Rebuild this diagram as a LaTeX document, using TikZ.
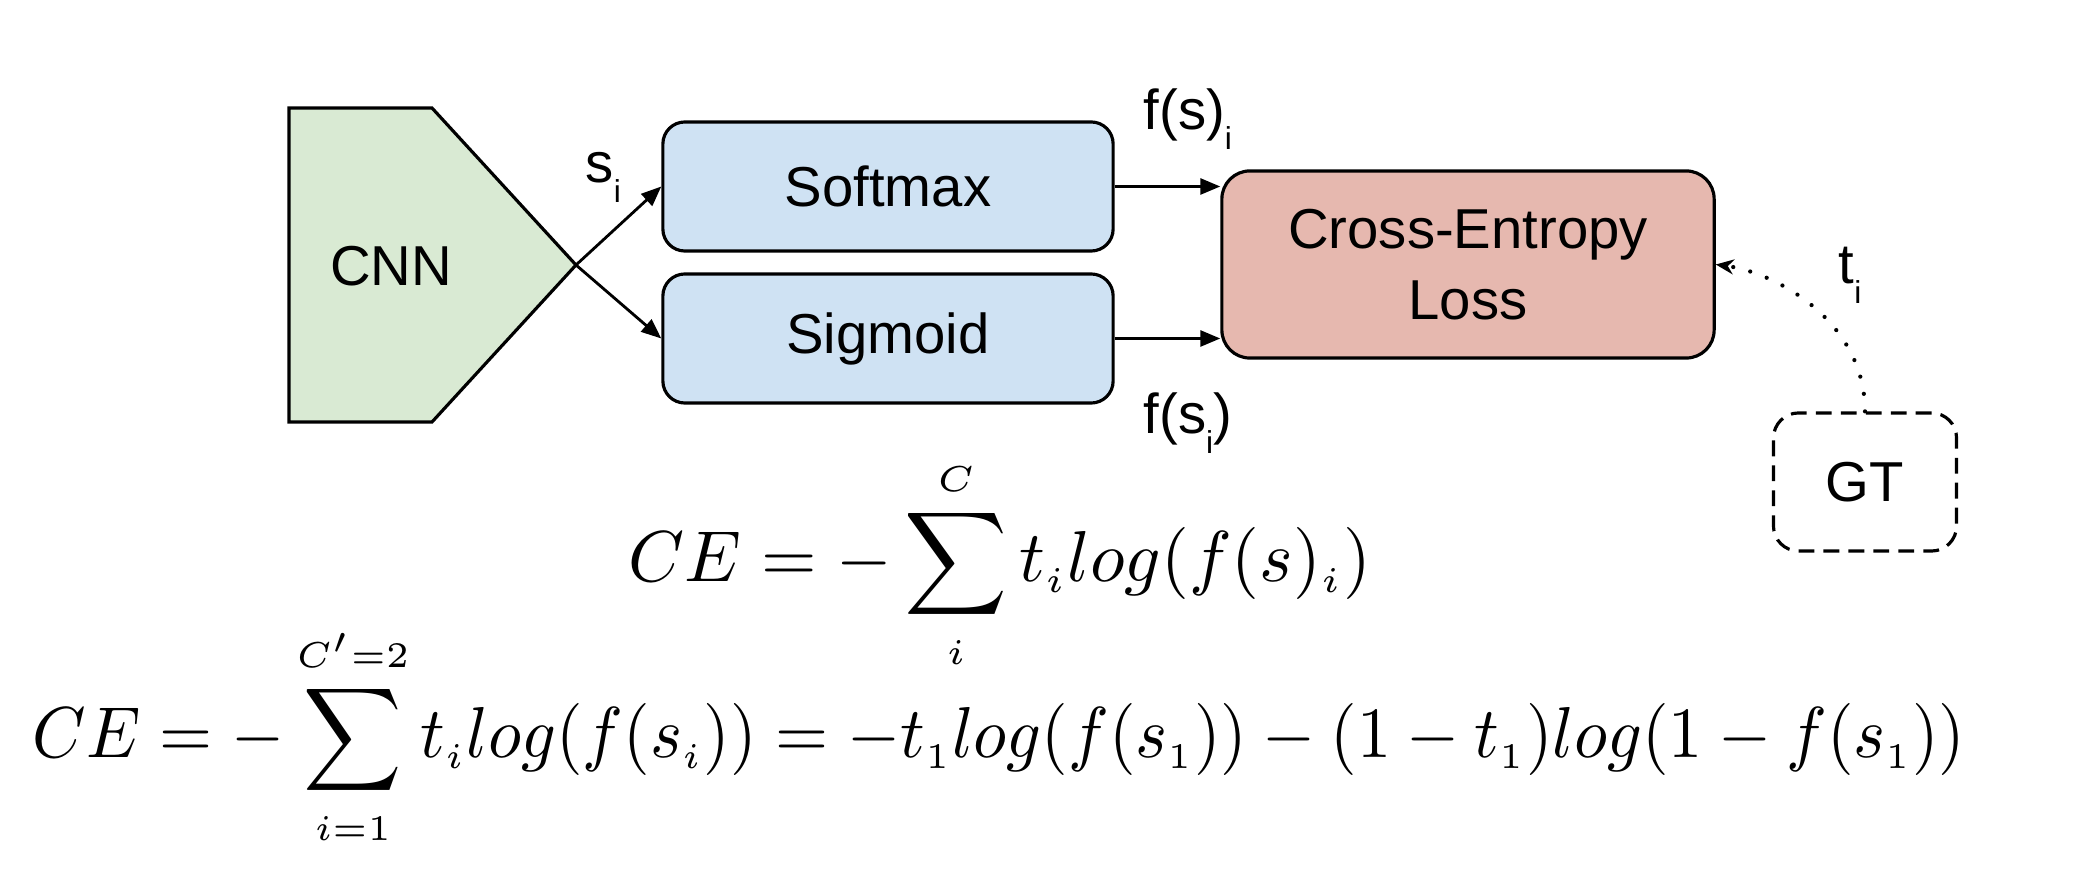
\documentclass[tikz,border=0pt]{standalone}
\usepackage[no-math]{fontspec}
\setmainfont{Liberation Sans}
\usepackage{graphicx}
\usetikzlibrary{arrows.meta}
\DeclareMathSizes{10}{10}{5}{5}
\definecolor{cnngreen}{HTML}{D9EAD3}
\definecolor{actblue}{HTML}{CFE2F3}
\definecolor{lossred}{HTML}{E6B8AF}
\newcommand{\lowsub}[1]{\raisebox{-0.19cm}{\fontsize{9}{9}\selectfont #1}}
\begin{document}
\begin{tikzpicture}[x=0.01cm,y=-0.01cm,
  lbl/.style={font=\fontsize{16}{20}\selectfont, inner sep=0},
  boxbase/.style={draw, line width=0.9pt, font=\fontsize{16}{20}\selectfont, align=center, inner sep=0},
  actbox/.style={boxbase, fill=actblue, rounded corners=0.22cm, minimum width=4.5cm, minimum height=1.29cm},
  lossbox/.style={boxbase, fill=lossred, rounded corners=0.28cm, minimum width=4.92cm, minimum height=1.87cm},
  gtbox/.style={boxbase, dash pattern=on 4.5pt off 2.6pt, rounded corners=0.25cm, minimum width=1.83cm, minimum height=1.38cm},
  conn/.style={line width=0.8pt, -{Triangle[length=0.2cm,width=0.16cm]}},
  dotconn/.style={line width=1.2pt, dash pattern=on 0pt off 5pt, line cap=round, -{Stealth[length=0.18cm,width=0.15cm,line cap=butt]}},
  eqn/.style={inner sep=0, anchor=base}
]
\useasboundingbox (0,0) rectangle (2088,892);
\fill[white] (0,0) rectangle (2088,892);

% CNN pentagon
\draw[fill=cnngreen, line width=0.9pt, line join=miter] (289,108) -- (432,108) -- (576,265) -- (432,422) -- (289,422) -- cycle;
\node[lbl] (cnn) at (391,266) {CNN};
\coordinate (cnntip) at (576,265);

% boxes
\node[actbox] (soft) at (888,186.5) {Softmax};
\node[actbox] (sig) at (888,338.5) {Sigmoid};
\node[lossbox] (ce) at (1468,264.5) {Cross-Entropy\\Loss};
\node[gtbox] (gt) at (1865,482) {GT};

% connectors
\draw[conn] (cnntip) -- (soft.west);
\draw[conn] (cnntip) -- (sig.west);
\draw[conn] (soft.east) -- (soft.east -| ce.west);
\draw[conn] (sig.east) -- (sig.east -| ce.west);
\draw[dotconn] (gt.north) .. controls +(0,-90) and +(60,8) .. (ce.east);

% labels
\node[lbl, anchor=base west] (lsi) at (585,183) {s\lowsub{i}};
\node[lbl, anchor=base west] (lfsi) at (1143,130) {f(s)\lowsub{i}};
\node[lbl, anchor=base west] (lfsii) at (1143,434) {f(s\lowsub{i})};
\node[lbl, anchor=base west] (lti) at (1838,284) {t\lowsub{i}};

% equations
\node[eqn] (eqa) at (1000,582) {\scalebox{2.03}[2.05]{$\displaystyle CE = -\sum_{i}^{C} t_i log(f(s)_i)$}};
\node[eqn] (eqb) at (999,758) {\scalebox{1.94}[2.05]{$\displaystyle CE = -\sum_{i=1}^{C'=2} t_i log(f(s_i)) = -t_1 log(f(s_1)) - (1-t_1) log(1-f(s_1))$}};
\end{tikzpicture}
\end{document}
